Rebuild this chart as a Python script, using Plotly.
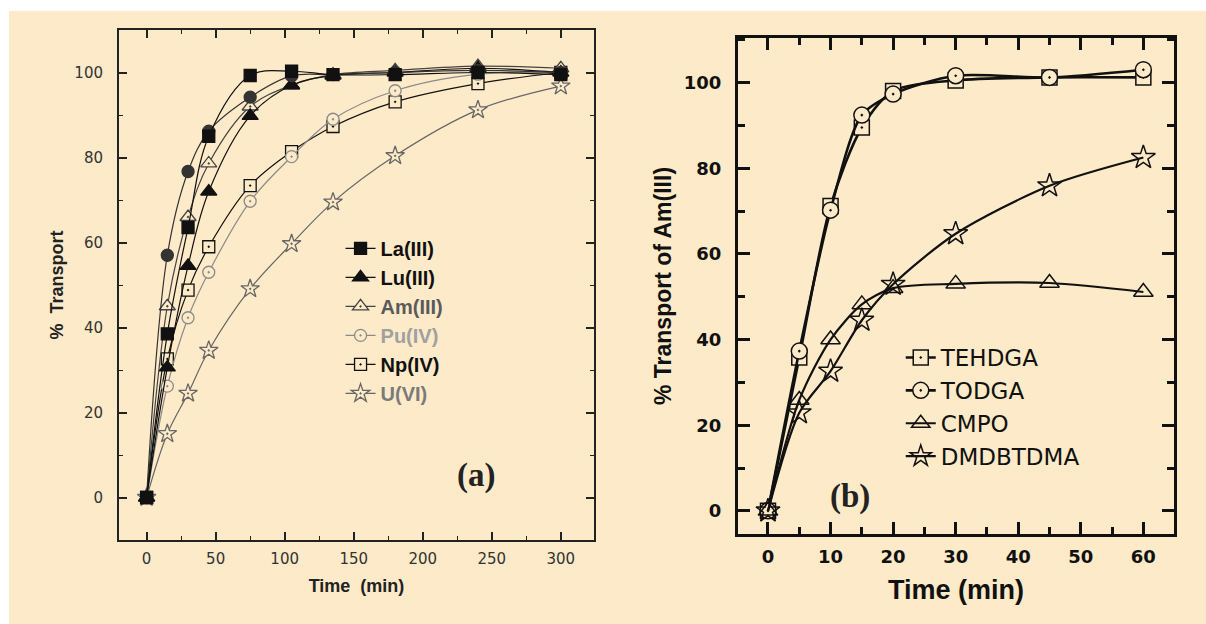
import plotly.graph_objects as go

# ---------------- data: panel (a) ----------------
time_a = [0, 15, 30, 45, 75, 105, 135, 180, 240, 300]
la_iii = [0, 38.5, 63.5, 85, 99.3, 100.3, 99.5, 99.5, 100, 99.5]
lu_iii = [0, 30.6, 54.5, 72, 89.8, 97, 99.3, 100, 101, 100]
am_iii = [0, 45, 66, 78.6, 92, 97, 99.5, 100.5, 101.5, 101]
pu_iv = [0, 26.2, 42.3, 53, 69.7, 80.2, 89, 95.7, 99.6, 100]
np_iv = [0, 32.6, 48.8, 59, 73.4, 81.4, 87.3, 93.1, 97.4, 100]
u_vi = [0, 15, 24.5, 34.6, 49.1, 59.7, 69.5, 80.4, 91.2, 96.8]
extra_circles = [0, 57, 76.7, 86.2, 94.2, 99.2, 99.5, 100, 100.5, 100]

x_ticks_a = [0, 50, 100, 150, 200, 250, 300]
y_ticks_a = [0, 20, 40, 60, 80, 100]

# ---------------- data: panel (b) ----------------
time_b = [0, 5, 10, 15, 20, 30, 45, 60]
tehdga = [0, 35.8, 71.2, 89.5, 98, 100.5, 101.2, 101.2]
todga = [0, 37.3, 70.2, 92.4, 97.3, 101.6, 101.2, 103]
cmpo = [0, 25.9, 40, 48.2, 52, 53, 53.2, 51.1]
dmdbtdma = [0, 22.9, 32.6, 44.5, 52.9, 64.7, 75.9, 82.5]

x_ticks_b = [0, 10, 20, 30, 40, 50, 60]
y_ticks_b = [0, 20, 40, 60, 80, 100]

BEIGE = "#FDEAC8"
SANS = "Liberation Sans, Arial, sans-serif"
DEJA = "DejaVu Sans, sans-serif"
SERIF = "Liberation Serif, Times New Roman, serif"

fig = go.Figure()


def add_a(name, y, color, symbol, size, fill, lw=1.2, show=True, mlw=1.3):
    fig.add_trace(go.Scatter(
        x=time_a, y=y, name=name, mode="lines+markers",
        line=dict(color=color, width=lw, shape="spline", smoothing=1.0),
        marker=dict(symbol=symbol, size=size, color=fill,
                    line=dict(color=color, width=mlw)),
        xaxis="x", yaxis="y", legend="legend", showlegend=show,
    ))


# added in reverse of the legend order (legend uses traceorder="reversed")
add_a("<b><span style='color:#7a7a7a'>U(VI)</span></b>", u_vi, "#666666", "star-dot", 14, BEIGE)
add_a("<b>Np(IV)</b>", np_iv, "#111111", "square-dot", 12, BEIGE)
add_a("<b><span style='color:#a0a0a0'>Pu(IV)</span></b>", pu_iv, "#8a8a8a", "circle-dot", 12, BEIGE)
add_a("<b><span style='color:#5a5a5a'>Am(III)</span></b>", am_iii, "#444444", "triangle-up-dot", 14, BEIGE)
add_a("<b>Lu(III)</b>", lu_iii, "#111111", "triangle-up", 14, "#111111")
add_a("extra", extra_circles, "#333333", "circle", 12, "#333333", show=False)
add_a("<b>La(III)</b>", la_iii, "#111111", "square", 12, "#111111")


def add_b(name, y, symbol, size, fill, lw=2.2):
    fig.add_trace(go.Scatter(
        x=time_b, y=y, name=name, mode="lines+markers",
        line=dict(color="#111111", width=lw, shape="spline", smoothing=0.8),
        marker=dict(symbol=symbol, size=size, color=fill,
                    line=dict(color="#111111", width=1.5)),
        xaxis="x2", yaxis="y2", legend="legend2",
    ))


add_b("TEHDGA", tehdga, "square-dot", 15, BEIGE, lw=2.6)
add_b("TODGA", todga, "circle-dot", 16, BEIGE, lw=2.6)
add_b("CMPO", cmpo, "triangle-up-open", 17, "#111111", lw=2.2)
add_b("DMDBTDMA", dmdbtdma, "star-open", 18, "#111111", lw=2.2)

axis_common_a = dict(
    showline=True, linecolor="#222222", linewidth=2, mirror="ticks",
    ticks="inside", ticklen=8, tickwidth=1.5, tickcolor="#222222",
    showgrid=False, zeroline=False, automargin=False,
    tickfont=dict(family=DEJA, size=15, color="#333333"),
)
axis_common_b = dict(
    showline=True, linecolor="#111111", linewidth=3, mirror="ticks",
    ticks="inside", ticklen=12, tickwidth=3, tickcolor="#111111",
    showgrid=False, zeroline=False, automargin=False,
    tickfont=dict(family=DEJA, size=18, color="#111111", weight="bold"),
)

fig.update_layout(
    width=1206, height=624,
    margin=dict(l=119, r=32, t=30, b=84),
    paper_bgcolor="white",
    plot_bgcolor="rgba(0,0,0,0)",
    xaxis=dict(domain=[0, 0.4502], range=[-20, 324], anchor="y",
               tickvals=x_ticks_a, ticklabelstandoff=4,
               minor=dict(ticks="inside", ticklen=4, tickwidth=1.2, dtick=25, tick0=0,
                          tickcolor="#222222", showgrid=False),
               title=dict(text="Time  (min)", standoff=12,
                          font=dict(family=SANS, size=18, color="#222222", weight="bold")),
               **axis_common_a),
    yaxis=dict(domain=[0, 1], range=[-10, 110], anchor="x",
               tickvals=y_ticks_a, ticklabelstandoff=11,
               minor=dict(ticks="inside", ticklen=4, tickwidth=1.2, dtick=10, tick0=0,
                          tickcolor="#222222", showgrid=False),
               title=dict(text="%  Transport", standoff=6,
                          font=dict(family=SANS, size=18, color="#222222", weight="bold")),
               **axis_common_a),
    xaxis2=dict(domain=[0.5867, 1], range=[-4.8, 64.9], anchor="y2",
                tickvals=x_ticks_b, ticklabelstandoff=4,
                minor=dict(ticks="inside", ticklen=7, tickwidth=2.5, dtick=5, tick0=0,
                           tickcolor="#111111", showgrid=False),
                title=dict(text="Time (min)", standoff=15,
                           font=dict(family=SANS, size=27, color="#111111", weight="bold")),
                **axis_common_b),
    yaxis2=dict(domain=[0.0118, 0.9843], range=[-5.4, 110.4], anchor="x2",
                tickvals=y_ticks_b, ticklabelstandoff=10,
                minor=dict(ticks="inside", ticklen=7, tickwidth=2.5, dtick=10, tick0=0,
                           tickcolor="#111111", showgrid=False),
                title=dict(text="% Transport of Am(III)", standoff=6,
                           font=dict(family=SANS, size=23, color="#111111", weight="bold")),
                **axis_common_b),
    legend=dict(x=0.21, y=0.61, xanchor="left", yanchor="top",
                bgcolor="rgba(0,0,0,0)", borderwidth=0,
                font=dict(family=SANS, size=20, color="#111111"),
                traceorder="reversed", tracegroupgap=0),
    legend2=dict(x=0.741, y=0.40, xanchor="left", yanchor="top",
                 bgcolor="rgba(0,0,0,0)", borderwidth=0,
                 font=dict(family=DEJA, size=23, color="#111111"),
                 traceorder="normal"),
    shapes=[dict(type="rect", xref="paper", yref="paper",
                 x0=-0.1043, x1=1.031, y0=-0.166, y1=1.0373,
                 fillcolor=BEIGE, line=dict(width=0), layer="below")],
    annotations=[
        dict(text="<b>(a)</b>", xref="paper", yref="paper", x=0.338, y=0.087,
             showarrow=False, font=dict(family=SERIF, size=33, color="#222222")),
        dict(text="<b>(b)</b>", xref="paper", yref="paper", x=0.714, y=0.046,
             showarrow=False, font=dict(family=SERIF, size=33, color="#222222")),
    ],
    showlegend=True,
)

fig.write_html("out.html",
               config={"displayModeBar": False},
               post_script="document.body.style.margin='0';document.body.style.padding='0';")
